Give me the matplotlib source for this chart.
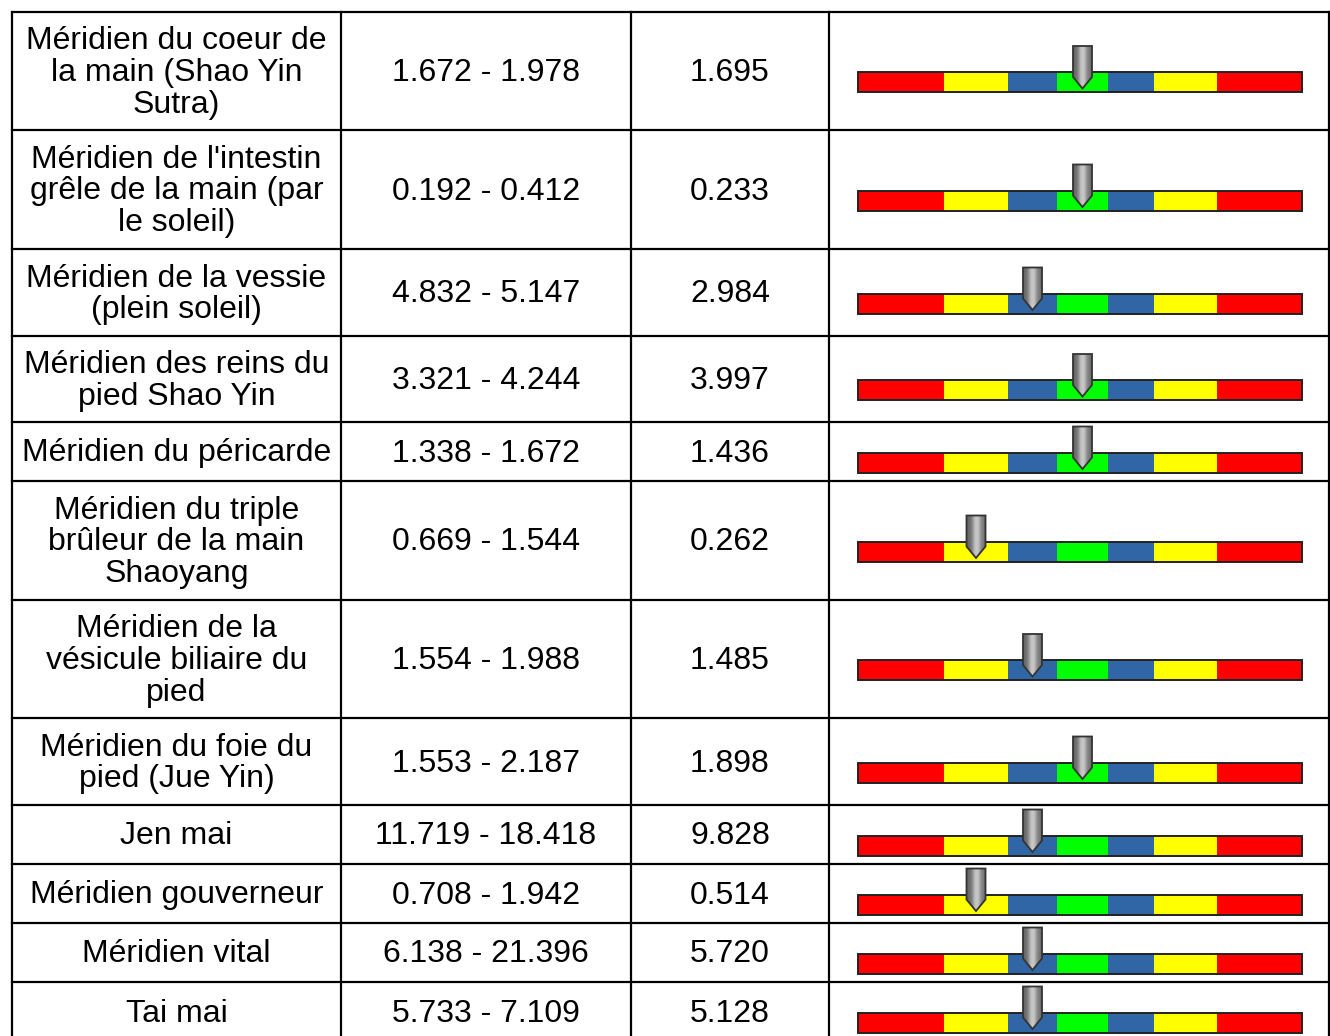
import matplotlib
matplotlib.use("Agg")
import matplotlib.pyplot as plt
import numpy as np
from matplotlib.patches import Polygon, Rectangle

plt.rcParams['font.family'] = ['Liberation Sans', 'DejaVu Sans']

# ---------------- data ----------------
names = [
    "Méridien du coeur de\nla main (Shao Yin\nSutra)",
    "Méridien de l'intestin\ngrêle de la main (par\nle soleil)",
    "Méridien de la vessie\n(plein soleil)",
    "Méridien des reins du\npied Shao Yin",
    "Méridien du péricarde",
    "Méridien du triple\nbrûleur de la main\nShaoyang",
    "Méridien de la\nvésicule biliaire du\npied",
    "Méridien du foie du\npied (Jue Yin)",
    "Jen mai",
    "Méridien gouverneur",
    "Méridien vital",
    "Tai mai",
]
ranges = [
    "1.672 - 1.978", "0.192 - 0.412", "4.832 - 5.147", "3.321 - 4.244",
    "1.338 - 1.672", "0.669 - 1.544", "1.554 - 1.988", "1.553 - 2.187",
    "11.719 - 18.418", "0.708 - 1.942", "6.138 - 21.396", "5.733 - 7.109",
]
values = [
    "1.695", "0.233", "2.984", "3.997", "1.436", "0.262",
    "1.485", "1.898", "9.828", "0.514", "5.720", "5.128",
]
# gauge segment index pointed at (0=red,1=yellow,2=blue,3=green,...)
levels = [3, 3, 2, 3, 3, 1, 2, 3, 2, 1, 2, 2]

# ---------------- layout ----------------
W, H = 1330, 1036
row_edges = [12, 130, 249, 336, 422, 481, 600, 718, 805, 864, 923, 982, 1041]
col_edges = [12, 341, 631, 829, 1329]
seg_edges = [858, 944, 1008, 1057, 1108, 1154, 1217, 1302]
seg_colors = ['#ff0000', '#ffff00', '#3166a6', '#00ff00', '#3166a6', '#ffff00', '#ff0000']

fig = plt.figure(figsize=(W / 100, H / 100), dpi=100)
ax = fig.add_axes([0, 0, 1, 1])
ax.set_xlim(0, W)
ax.set_ylim(H, 0)
ax.axis('off')

lw = 1.6
# grid lines
for y in row_edges:
    ax.plot([col_edges[0], col_edges[-1]], [y, y], color='black', lw=lw,
            solid_capstyle='projecting', zorder=5)
for x in col_edges:
    ax.plot([x, x], [row_edges[0], row_edges[-1]], color='black', lw=lw,
            solid_capstyle='projecting', zorder=5)

fs = 23
cx_name = (col_edges[0] + col_edges[1]) / 2
cx_range = (col_edges[1] + col_edges[2]) / 2
cx_val = (col_edges[2] + col_edges[3]) / 2

gradient = np.array([[0.40, 0.43, 0.48, 0.60, 0.74, 0.78, 0.76, 0.64, 0.53, 0.48, 0.43]])

for i in range(len(names)):
    top, bot = row_edges[i], row_edges[i + 1]
    cy = (top + bot) / 2
    ax.text(cx_name, cy + 2, names[i], ha='center', va='center', fontsize=fs,
            linespacing=1.08, color='black')
    ax.text(cx_range, cy + 2, ranges[i], ha='center', va='center', fontsize=fs, color='black')
    ax.text(cx_val, cy + 2, values[i], ha='center', va='center', fontsize=fs, color='black')

    # gauge bar
    by = cy + 1
    bh = 20
    # shadow
    ax.add_patch(Rectangle((seg_edges[0] + 1, by + 1), seg_edges[-1] - seg_edges[0], bh,
                           facecolor='#bbbbbb', edgecolor='none', zorder=2))
    for k in range(len(seg_colors)):
        ax.add_patch(Rectangle((seg_edges[k], by), seg_edges[k + 1] - seg_edges[k], bh,
                               facecolor=seg_colors[k], edgecolor='none', zorder=3))
    ax.add_patch(Rectangle((seg_edges[0], by), seg_edges[-1] - seg_edges[0], bh,
                           facecolor='none', edgecolor='#222222', lw=1.4, zorder=4))

    # marker
    lv = levels[i]
    mx = (seg_edges[lv] + seg_edges[lv + 1]) / 2
    hw = 9.5
    mtop = by - 26
    mbody = by + 5
    mtip = by + 16.5
    verts = [(mx - hw, mtop), (mx + hw, mtop), (mx + hw, mbody), (mx, mtip), (mx - hw, mbody)]
    poly = Polygon(verts, closed=True, facecolor='none', edgecolor='#333333', lw=1.3, zorder=7)
    ax.add_patch(poly)
    im = ax.imshow(gradient, cmap='gray', vmin=0, vmax=1, aspect='auto',
                   extent=[mx - hw, mx + hw, mtip, mtop], zorder=6, interpolation='bilinear')
    clip = Polygon(verts, closed=True, transform=ax.transData)
    im.set_clip_path(clip)

ax.set_xlim(0, W)
ax.set_ylim(H, 0)
fig.savefig('out.png', dpi=100, facecolor='white')
